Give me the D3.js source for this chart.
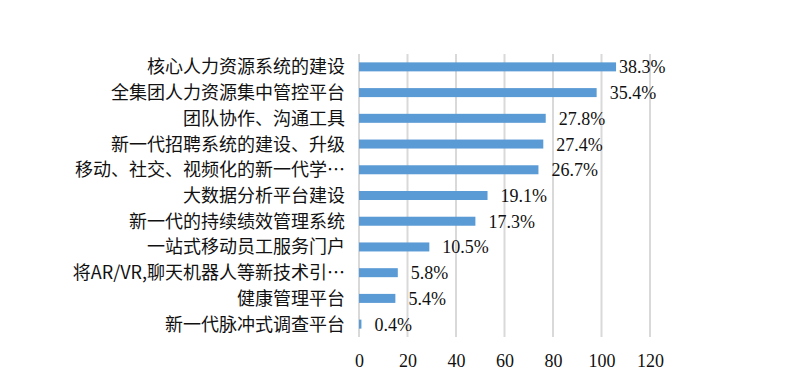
<!DOCTYPE html>
<html>
<head>
<meta charset="utf-8">
<script src="https://cdn.jsdelivr.net/npm/d3@7/dist/d3.min.js"></script>
<style>
  html, body { margin: 0; padding: 0; background: #fff; }
  svg { display: block; }
</style>
</head>
<body>
<svg id="chart" width="796" height="391"></svg>
<script>
const categories = [
  "核心人力资源系统的建设",
  "全集团人力资源集中管控平台",
  "团队协作、沟通工具",
  "新一代招聘系统的建设、升级",
  "移动、社交、视频化的新一代学…",
  "大数据分析平台建设",
  "新一代的持续绩效管理系统",
  "一站式移动员工服务门户",
  "将AR/VR,聊天机器人等新技术引…",
  "健康管理平台",
  "新一代脉冲式调查平台"
];
const counts = [106, 98, 77, 76, 74, 53, 48, 29, 16, 15, 1];
const percentLabels = ["38.3%", "35.4%", "27.8%", "27.4%", "26.7%", "19.1%", "17.3%", "10.5%", "5.8%", "5.4%", "0.4%"];
const xTicks = [0, 20, 40, 60, 80, 100, 120];

(function () {
const svg = d3.select("#chart");
const pLeft = 359, pRight = 650, pTop = 54, pBottom = 337;

const x = d3.scaleLinear().domain([0, 120]).range([pLeft, pRight]);
const y = d3.scaleBand().domain(categories).range([pTop, pBottom])
  .paddingInner(0.65).paddingOuter(0.325);

// gridlines
svg.append("g").selectAll("line").data(xTicks).join("line")
  .attr("x1", d => x(d)).attr("x2", d => x(d))
  .attr("y1", pTop).attr("y2", pBottom)
  .attr("stroke", "#d9d9d9").attr("stroke-width", 2);

// x axis tick labels
const xAxis = d3.axisBottom(x).tickValues(xTicks).tickSize(0).tickPadding(0);
const gx = svg.append("g").attr("transform", `translate(0,${pBottom + 17})`).call(xAxis);
gx.select(".domain").remove();
gx.selectAll("text")
  .attr("font-family", "'Liberation Serif', 'DejaVu Serif', serif")
  .attr("font-size", 18).attr("fill", "#111").attr("dy", "0.71em");

// y axis labels
const yAxis = d3.axisLeft(y).tickSize(0).tickPadding(0);
const gy = svg.append("g").attr("transform", `translate(${pLeft - 14},0)`).call(yAxis);
gy.select(".domain").remove();
gy.selectAll("text")
  .attr("font-family", "'Noto Sans CJK SC', sans-serif")
  .attr("font-size", 18).attr("fill", "#111").attr("dy", "0.36em");

// bars
svg.append("g").selectAll("rect").data(categories).join("rect")
  .attr("x", x(0))
  .attr("y", d => y(d))
  .attr("width", (d, i) => x(counts[i]) - x(0))
  .attr("height", y.bandwidth())
  .attr("fill", "#5b9bd5");

// data labels
svg.append("g").selectAll("text").data(categories).join("text")
  .attr("x", (d, i) => Math.min(x(counts[i]) + 13, 619))
  .attr("y", d => y(d) + y.bandwidth() / 2)
  .attr("dy", "0.36em")
  .attr("font-family", "'Liberation Serif', 'DejaVu Serif', serif")
  .attr("font-size", 18).attr("fill", "#111")
  .text((d, i) => percentLabels[i]);
})();
</script>
</body>
</html>
